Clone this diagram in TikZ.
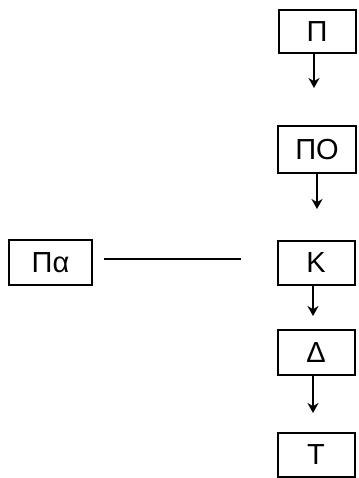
\documentclass[tikz,border=0pt]{standalone}
\usepackage{fontspec}
\setmainfont{Liberation Sans}
\usetikzlibrary{arrows.meta}
\begin{document}
\begin{tikzpicture}[x=1pt,y=-1pt,
  box/.style={draw,line width=2pt,rectangle,inner sep=0pt,minimum width=77pt,minimum height=44pt,font=\fontsize{29}{29}\selectfont},
  arr/.style={line width=2.8pt,-{Stealth[length=10pt,width=11pt]}},
  link/.style={line width=2.2pt}]
\useasboundingbox (0,0) rectangle (358,478);
\node[box,minimum height=43pt] (P) at (317,31.5) {Π};
\node[box,minimum width=78pt,minimum height=47pt] (PO) at (317,149.5) {ΠΟ};
\node[box] (K) at (316,263) {Κ};
\node[box,minimum height=45pt] (D) at (316,352.5) {Δ};
\node[box] (T) at (316,455) {Τ};
\node[box,minimum width=83pt,minimum height=45pt] (Pa) at (50.5,262.5) {Πα};
\coordinate (e1) at (314,88);
\coordinate (e2) at (317,209);
\coordinate (e3) at (313,316);
\coordinate (e4) at (313,413);
\draw[arr] (P.south -| e1) -- (e1);
\draw[arr] (PO.south -| e2) -- (e2);
\draw[arr] (K.south -| e3) -- (e3);
\draw[arr] (D.south -| e4) -- (e4);
\coordinate (l1) at (104,259);
\coordinate (l2) at (241,259);
\draw[link] (l1) -- (l2);
\end{tikzpicture}
\end{document}
